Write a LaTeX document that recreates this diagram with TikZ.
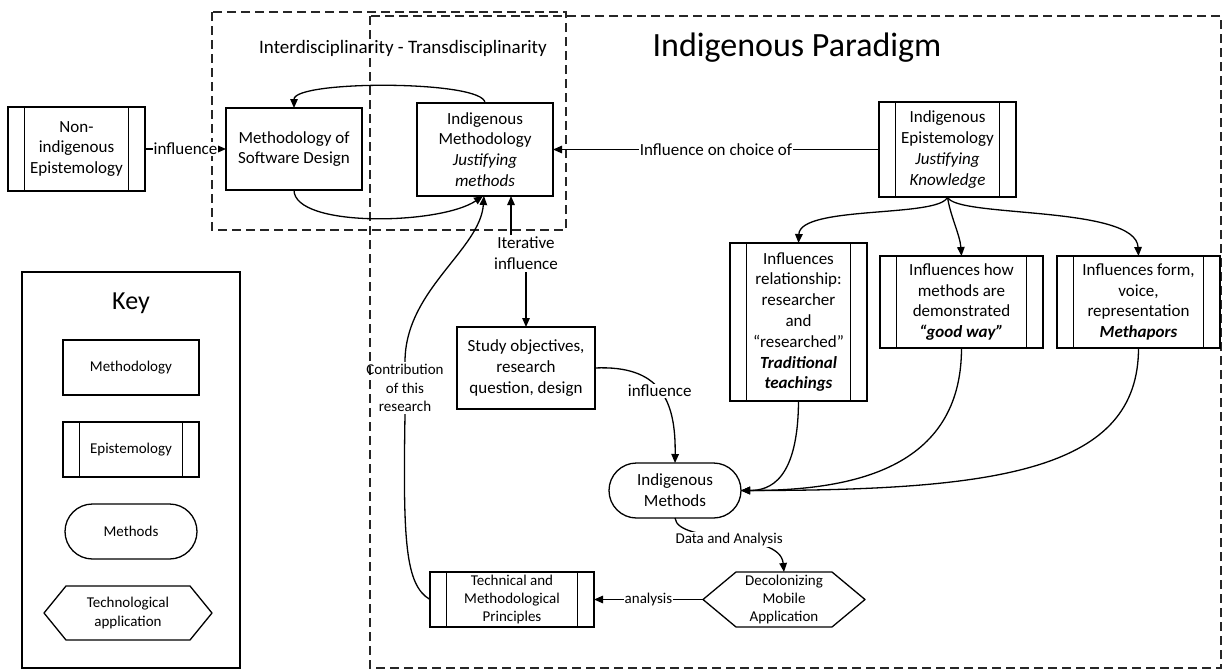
\documentclass[tikz,border=0pt]{standalone}
\usepackage{fontspec}
\setmainfont{Carlito}
\usetikzlibrary{arrows.meta, positioning, shapes.misc}

\begin{document}
\begin{tikzpicture}[
    x=1pt, y=-1pt,
    line width=1.3pt,
    >={Triangle[length=9pt,width=7.5pt]},
    txt/.style={font=\fontsize{17}{20.8}\selectfont},
    small/.style={font=\fontsize{15}{18.3}\selectfont},
    method/.style={rectangle, draw=black, fill=white, minimum width=136pt, minimum height=55pt, align=center, inner sep=2pt, outer sep=0pt, txt},
    episteme/.style={method, path picture={
        \draw ([xshift=16.5pt]path picture bounding box.north west) -- ([xshift=16.5pt]path picture bounding box.south west)
              ([xshift=-16.5pt]path picture bounding box.north east) -- ([xshift=-16.5pt]path picture bounding box.south east);}},
    methods/.style={method, rounded rectangle},
    techapp/.style={method, draw=none, fill=none},
    arrow/.style={->, draw=black},
    edge_label/.style={fill=white, inner sep=1pt, txt},
    edge_label_small/.style={fill=white, inner sep=1pt, small},
    plain_label/.style={align=center, inner sep=2pt, txt},
    frame/.style={draw=black!85, line width=1.3pt, dash pattern=on 9pt off 5pt}
]
\useasboundingbox (0,0) rectangle (1225,670);

% Frames
\draw[frame] (212,12) rectangle (566,230);
\draw[frame] (370,16) rectangle (1221,668);
\node[font=\fontsize{19}{23}\selectfont] (interdisc) at (403,48) {Interdisciplinarity - Transdisciplinarity};
\node[font=\fontsize{34}{40}\selectfont] (paradigm) at (797,48) {Indigenous Paradigm};

% Nodes
\node[episteme, minimum width=137pt, minimum height=84pt] (nonind) at (76.5,149) {Non-\\indigenous\\Epistemology};
\node[method, minimum height=82pt] (softdes) at (294,149) {Methodology of\\Software Design};
\node[method, minimum height=93pt] (indmeth) at (485,149.5) {Indigenous\\Methodology\\\textit{Justifying}\\\textit{methods}};
\node[episteme, minimum width=137pt, minimum height=95pt] (indepist) at (947.5,149.5) {Indigenous\\Epistemology\\\textit{Justifying}\\\textit{Knowledge}};

\node[episteme, minimum width=137pt, minimum height=158pt] (relation) at (798.5,322) {Influences\\relationship:\\researcher\\and\\``researched''\\\textbf{\textit{Traditional}}\\\textbf{\textit{teachings}}};
\node[episteme, minimum width=163pt, minimum height=92pt] (goodway) at (961.5,302) {Influences how\\methods are\\demonstrated\\\textbf{\textit{``good way''}}};
\node[episteme, minimum width=163pt, minimum height=92pt] (form) at (1138.5,302) {Influences form,\\voice,\\representation\\\textbf{\textit{Methapors}}};

\node[plain_label] (iterative) at (526,253.5) {Iterative\\influence};
\node[method, minimum width=138pt, minimum height=82pt] (study) at (526,368) {Study objectives,\\research\\question, design};
\node[plain_label, small] (contrib) at (405,388) {Contribution\\of this\\research};

\node[methods] (indmethods) at (675,490.5) {Indigenous\\Methods};
\node[techapp, small, minimum width=162pt] (decol) at (784,599.5) {Decolonizing\\Mobile\\Application};
\node[episteme, small, minimum width=164pt] (tech) at (512,599.5) {Technical and\\Methodological\\Principles};

% Key
\node[draw, minimum width=218pt, minimum height=396pt, outer sep=0pt] (keybox) at (131,470) {};
\node[font=\fontsize{26}{30}\selectfont] (keytitle) at (131,303) {Key};
\node[method, small] (keymeth) at (131,367.5) {Methodology};
\node[episteme, small] (keyepist) at (131,449.5) {Epistemology};
\node[methods, small] (keymethods) at (131,531.5) {Methods};
\node[techapp, small, minimum width=168pt, minimum height=54pt] (keyhex) at (128,613) {Technological\\application};

% Hexagons
\draw[line join=round] (decol.west) -- ([xshift=33pt]decol.north west) -- ([xshift=-33pt]decol.north east) -- (decol.east) -- ([xshift=-33pt]decol.south east) -- ([xshift=33pt]decol.south west) -- cycle;
\draw[line join=round] (keyhex.west) -- ([xshift=22pt]keyhex.north west) -- ([xshift=-22pt]keyhex.north east) -- (keyhex.east) -- ([xshift=-22pt]keyhex.south east) -- ([xshift=22pt]keyhex.south west) -- cycle;

% Paths
\draw[arrow] (nonind) -- node[edge_label] {influence} (softdes);
\draw[arrow] (indepist) -- node[edge_label] {Influence on choice of} (indmeth);
\draw[arrow] (indmeth.north) .. controls (485,80) and (294,80) .. (softdes.north);
\draw[arrow] (softdes.south) .. controls (294,228) and (440,225) .. ([xshift=-2pt]indmeth.south);

\draw[arrow] ([xshift=-15pt]iterative.north) -- ([xshift=-15pt]iterative.north |- indmeth.south);
\draw[arrow] (iterative) -- (study);

\draw[arrow] (indepist.south) .. controls (940,218) and (800,205) .. (relation.north);
\draw[arrow] (indepist.south) .. controls (950,215) and (960,235) .. (goodway.north);
\draw[arrow] (indepist.south) .. controls (955,218) and (1136,205) .. (form.north);

\draw[arrow] (study.east) .. controls (660,365) and (676,400) .. (indmethods.north) node[edge_label, pos=0.5] {influence};
\draw[arrow] (relation.south) .. controls (798,480) and (770,490.5) .. (indmethods.east);
\draw[arrow] (goodway.south) .. controls (961.5,470) and (850,490.5) .. (indmethods.east);
\draw[arrow] (form.south) .. controls (1138.5,470) and (1000,490.5) .. (indmethods.east);

\draw[arrow] (indmethods.south) .. controls (678,545) and (780,530) .. (decol.north) node[edge_label_small, pos=0.5] {Data and Analysis};
\draw[arrow] (decol) -- node[edge_label_small] {analysis} (tech);

\draw (tech.west) .. controls (405,585) and (403,540) .. (contrib.south);
\draw[arrow] (contrib.north) .. controls (405,290) and (480,250) .. ([xshift=-1pt]indmeth.south);

\end{tikzpicture}
\end{document}
